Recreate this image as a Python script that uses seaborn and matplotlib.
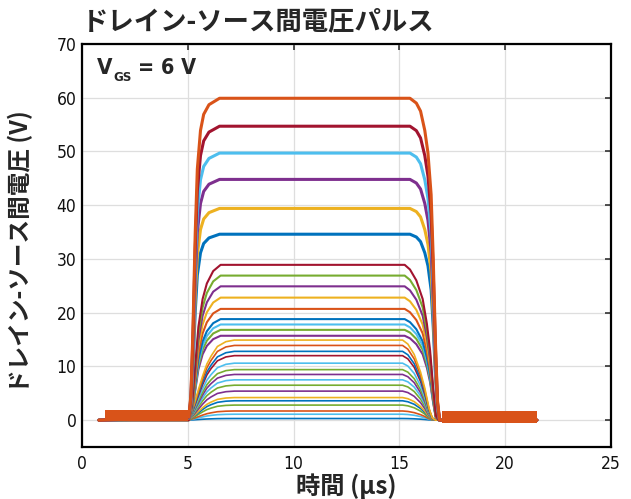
import numpy as np
import pandas as pd
import matplotlib
matplotlib.use("Agg")
import matplotlib.pyplot as plt
import seaborn as sns
from matplotlib import font_manager
from matplotlib.font_manager import FontProperties

# Plateau levels of the drain-source voltage pulses (V), bottom to top
levels = [0.3, 1.1, 1.7, 2.8, 3.6, 4.2, 5.4, 6.5, 7.5, 8.5, 9.4, 10.6,
          12.0, 12.8, 13.9, 14.9, 15.7, 16.8, 17.8, 18.8, 20.7, 22.8,
          24.9, 26.9, 28.9, 34.6, 39.4, 44.8, 49.7, 54.7, 59.9]
trace_colors = ["blue", "lightblue", "orange", "green", "blue", "yellow",
                "purple", "green", "lightblue", "purple", "green", "lightblue",
                "darkred", "blue", "orange", "yellow", "purple", "green",
                "lightblue", "blue", "orange", "yellow", "purple", "green",
                "darkred", "blue", "yellow", "purple", "lightblue", "darkred",
                "orange"]

palette = {"blue": "#0072BD", "orange": "#D95319", "yellow": "#EDB120",
           "purple": "#7E2F8E", "green": "#77AC30", "lightblue": "#4DBEEE",
           "darkred": "#A2142F"}

# Normalised pulse shapes (time in us, fraction of plateau level)
fast_t = [0.8, 5.05, 5.15, 5.25, 5.35, 5.45, 5.6, 5.75, 6.0, 6.5, 15.5, 15.8,
          16.0, 16.2, 16.35, 16.5, 16.6, 16.7, 16.8, 16.9, 21.5]
fast_f = [0, 0.01, 0.08, 0.30, 0.58, 0.78, 0.90, 0.95, 0.98, 1.0, 1.0, 0.985,
          0.96, 0.90, 0.83, 0.70, 0.50, 0.25, 0.06, 0, 0]
mid_t = [0.8, 5.05, 5.2, 5.35, 5.5, 5.7, 5.9, 6.2, 6.55, 15.25, 15.5, 15.8,
         16.1, 16.3, 16.45, 16.6, 16.72, 16.85, 21.5]
mid_f = [0, 0, 0.10, 0.35, 0.60, 0.78, 0.88, 0.96, 1.0, 1.0, 0.97, 0.90,
         0.78, 0.62, 0.45, 0.20, 0.03, 0, 0]
slow_t = [0.8, 5.0, 5.15, 5.3, 5.5, 5.7, 5.9, 6.1, 6.4, 6.8, 7.2, 15.15, 15.4,
          15.7, 16.0, 16.2, 16.4, 16.55, 16.7, 21.5]
slow_f = [0, 0, 0.08, 0.20, 0.38, 0.55, 0.70, 0.80, 0.92, 0.98, 1.0, 1.0, 0.95,
          0.82, 0.60, 0.40, 0.15, 0.03, 0, 0]

# Baseline noise envelope before and after the pulse (us, V)
pre_band_t = [1.1, 5.0]
pre_band_lo = [-0.1, -0.1]
pre_band_hi = [1.9, 1.9]
post_band_t = [17.0, 21.5]
post_band_lo = [-0.5, -0.5]
post_band_hi = [1.7, 1.7]

x_ticks = [0, 5, 10, 15, 20, 25]
y_ticks = [0, 10, 20, 30, 40, 50, 60, 70]


def narrow_font(bold):
    """Pick a condensed sans face if one is installed."""
    found = []
    for f in font_manager.fontManager.ttflist:
        nm = f.name
        if "Mono" in nm or "Serif" in nm:
            continue
        is_narrow = ("Narrow" in nm or "Condensed" in nm
                     or str(f.stretch) in ("condensed", "semi-condensed",
                                           "extra-condensed", "ultra-condensed")
                     or "Condensed" in f.fname or "Narrow" in f.fname)
        if not is_narrow:
            continue
        w = f.weight if isinstance(f.weight, int) else (700 if f.weight == "bold" else 400)
        is_bold = w >= 600
        italic = f.style != "normal"
        if is_bold == bold and not italic:
            found.append(f)
    if found:
        return FontProperties(fname=found[0].fname), True
    return FontProperties(family="Liberation Sans",
                          weight="bold" if bold else "normal"), False


tick_fp, tick_narrow = narrow_font(False)
bold_fp, bold_narrow = narrow_font(True)

sns.set_theme(style="whitegrid")
cjk = ["Noto Sans CJK JP", "DejaVu Sans"]
plt.rcParams["font.family"] = ["Liberation Sans", "DejaVu Sans"]

fig = plt.figure(figsize=(6.31, 4.99), dpi=100)
ax = fig.add_axes([82 / 631, 1 - 447 / 499, 529 / 631, 403 / 499])
ax.set_facecolor("white")

for lev, cname in zip(levels, trace_colors):
    if lev >= 30:
        tt, ff, lw = fast_t, fast_f, 2.2
    elif lev >= 15:
        tt, ff, lw = mid_t, mid_f, 1.5
    else:
        tt, ff, lw = slow_t, slow_f, 1.2
    df = pd.DataFrame({"t": tt, "v": np.asarray(ff) * lev})
    sns.lineplot(data=df, x="t", y="v", ax=ax, color=palette[cname],
                 lw=lw, sort=False, estimator=None, zorder=3)

ax.fill_between(pre_band_t, pre_band_lo, pre_band_hi, color=palette["orange"],
                lw=0, zorder=4)
ax.fill_between(post_band_t, post_band_lo, post_band_hi, color=palette["orange"],
                lw=0, zorder=4)

ax.set_xlim(0, 25)
ax.set_ylim(-5, 70)
ax.set_xticks(x_ticks)
ax.set_yticks(y_ticks)
ax.grid(True, color="#dedede", lw=0.9)
ax.tick_params(direction="in", top=True, right=True, length=4, width=1.1,
               color="#222222", labelcolor="#111111")
ax.tick_params(axis="x", pad=6)
ax.tick_params(axis="y", pad=4)
tick_size = 12.5 if tick_narrow else 11.5
for lab in ax.get_xticklabels() + ax.get_yticklabels():
    lab.set_fontproperties(tick_fp)
    lab.set_fontsize(tick_size)
for s in ax.spines.values():
    s.set_color("black")
    s.set_linewidth(1.6)

ax.set_xlabel("時間 (µs)", family=cjk, fontsize=17.5, fontweight="bold")
ax.set_ylabel("ドレイン-ソース間電圧 (V)", family=cjk, fontsize=17,
              fontweight="bold")
ax.xaxis.set_label_coords(0.5, -0.066)
ax.yaxis.set_label_coords(-0.093, 0.484)

fig.text(82 / 631, 1 - 22 / 499, "ドレイン-ソース間電圧パルス", family=cjk,
         fontsize=19, fontweight="bold", ha="left", va="center")

# Gate-source voltage annotation: V, subscript GS, then "= 6 V"
v_txt = ax.text(0.028, 0.915, "V", transform=ax.transAxes, ha="left",
                va="bottom")
v_txt.set_fontproperties(bold_fp)
v_txt.set_fontsize(16)
gs_txt = ax.annotate("GS", xy=(1, 0), xycoords=v_txt, xytext=(1, -4),
                     textcoords="offset points", ha="left", va="bottom")
gs_txt.set_fontproperties(bold_fp)
gs_txt.set_fontsize(9.5)
eq_txt = ax.annotate("= 6 V", xy=(1, 0), xycoords=(gs_txt, v_txt),
                     xytext=(4, 0), textcoords="offset points",
                     ha="left", va="bottom")
eq_txt.set_fontproperties(bold_fp)
eq_txt.set_fontsize(15.5)

fig.savefig("out.png", dpi=100)
